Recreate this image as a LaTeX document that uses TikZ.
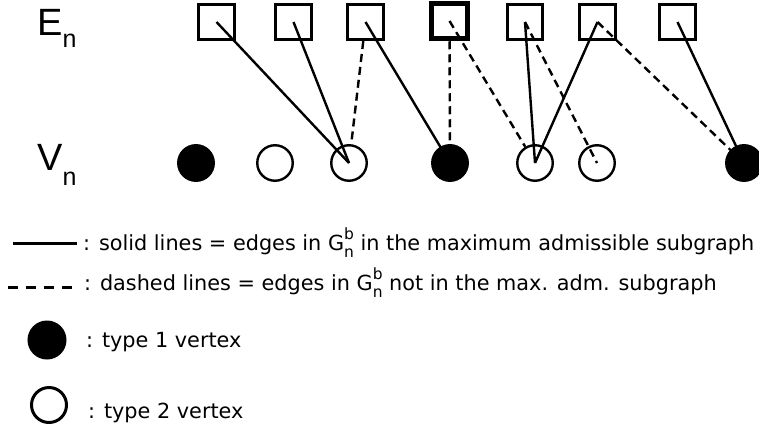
\documentclass[tikz,border=0pt]{standalone}
\usepackage{fontspec}
\setmainfont{DejaVu Sans}
\newfontfamily\arialf{Liberation Sans}
\newcommand\Gbn{G\rlap{\raisebox{10.5pt}{\fontsize{15.5}{15.5}\selectfont b}}\raisebox{-7.5pt}{\fontsize{15.5}{15.5}\selectfont n}}
\tikzset{
  edgebox/.style={draw, line width=2.6pt, rectangle, minimum size=35.5pt, inner sep=0pt},
  thickbox/.style={edgebox, line width=5pt},
  vfull/.style={draw, circle, fill=black, line width=2.4pt, minimum size=35.5pt, inner sep=0pt},
  vempty/.style={draw, circle, fill=white, line width=2.4pt, minimum size=35.5pt, inner sep=0pt},
  solidedge/.style={line width=2.4pt},
  dashededge/.style={line width=2.4pt, dash pattern=on 8pt off 5pt},
  legtext/.style={anchor=base west, inner sep=0pt, font=\fontsize{20.8}{24}\selectfont},
  setlabel/.style={anchor=base west, inner sep=0pt, font=\arialf\fontsize{38}{40}\selectfont}
}
\begin{document}
\begin{tikzpicture}[x=1pt,y=-1pt]
\useasboundingbox (0,0) rectangle (759,431);
% labels
\node[setlabel] (El) at (37,35) {E\raisebox{-12pt}{\fontsize{25}{25}\selectfont n}};
\node[setlabel] (Vl) at (37,170) {V\raisebox{-15pt}{\fontsize{25}{25}\selectfont n}};
% vertices
\node[vfull]  (v1) at (196,163) {};
\node[vempty] (v2) at (275,163) {};
\node[vempty] (v3) at (349,163) {};
\node[vfull]  (v4) at (450,163) {};
\node[vempty] (v5) at (535,163) {};
\node[vempty] (v6) at (597,163) {};
\node[vfull]  (v7) at (744,163) {};
% edges (squares)
\node[edgebox]  (s1) at (216.5,22) {};
\node[edgebox]  (s2) at (293.5,22) {};
\node[edgebox]  (s3) at (365.5,22) {};
\node[thickbox] (s4) at (449.5,21) {};
\node[edgebox]  (s5) at (525,22) {};
\node[edgebox]  (s6) at (597.5,22) {};
\node[edgebox]  (s7) at (677.5,22) {};
% connectors
\draw[solidedge] (s1.center) -- (v3.center);
\draw[solidedge] (s2.center) -- (v3.center);
\draw[dashededge] (s3) -- (v3);
\draw[solidedge] (s3.center) -- (v4.center);
\draw[dashededge] (s4) -- (v4);
\draw[dashededge] (s4.center) -- (v5);
\draw[solidedge] (s5.center) -- (v5.center);
\draw[dashededge] (s5.center) -- (v6.center);
\draw[solidedge] (s6.center) -- (v5.center);
\draw[dashededge] (s6.center) -- (v7.center);
\draw[solidedge] (s7.center) -- (v7.center);
% legend
\coordinate (ls1) at (13,243);
\coordinate (ls2) at (77,243);
\draw[line width=3pt] (ls1) -- (ls2);
\node[legtext] (t1) at (83,250) {: solid lines = edges in \Gbn\ in the maximum admissible subgraph};
\coordinate (ld1) at (8,287);
\coordinate (ld2) at (73,287);
\draw[line width=3pt, dash pattern=on 10pt off 8pt] (ld1) -- (ld2);
\node[legtext] (t2) at (84,290) {: dashed lines = edges in \Gbn\ not in the max. adm. subgraph};
\node[draw, circle, fill=black, line width=2pt, minimum size=37pt, inner sep=0pt] (lf) at (47,340) {};
\node[legtext] (t3) at (86,347) {: type 1 vertex};
\node[draw, circle, line width=3pt, minimum size=35pt, inner sep=0pt] (le) at (49,405) {};
\node[legtext] (t4) at (88,418) {: type 2 vertex};
\end{tikzpicture}
\end{document}
